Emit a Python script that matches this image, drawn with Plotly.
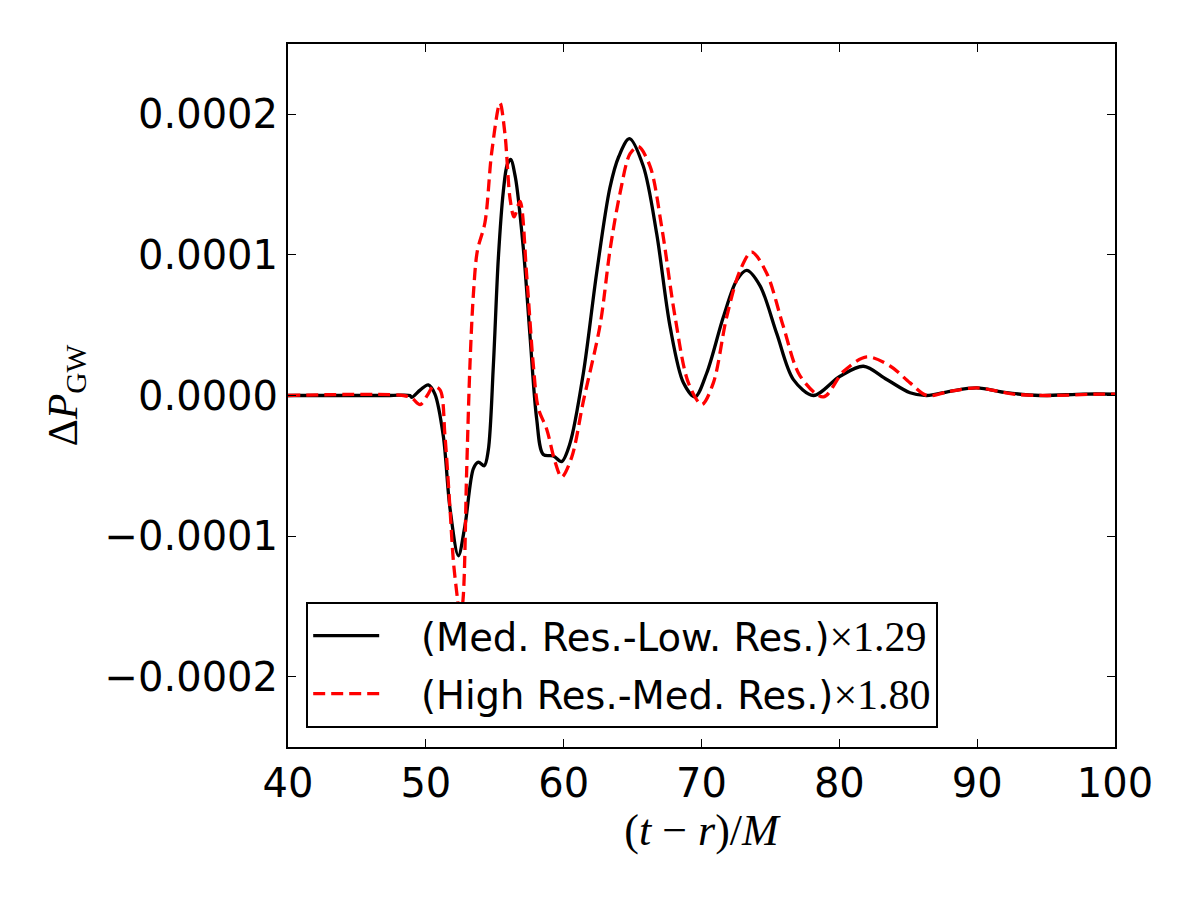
import plotly.graph_objects as go

# Time axis (t - r)/M and Delta P_GW values
med_low_t = [40, 47.4, 48.85, 48.97, 49.6, 50.18, 50.66, 51.27, 51.75, 52.36, 52.84,
             53.45, 53.81, 54.24, 54.53, 54.9, 55.26, 55.62, 55.9, 56.15, 56.5, 57.07,
             57.56, 58.04, 58.52, 59.25, 59.85, 60.46, 61.43, 62.39, 63.36, 64.0,
             64.77, 65.78, 66.75, 67.72, 68.69, 69.53, 70.38, 71.59, 72.56, 73.28,
             74.25, 75.46, 76.67, 78.12, 80.05, 81.75, 83.44, 85.13, 86.34, 88.03,
             89.97, 92.14, 94.56, 97.7, 100]
med_low_dp = [0.0, 0.0, 0.0, -0.0000013, 0.000004, 0.0000075, 0.000001, -0.000029,
              -0.00008, -0.000114, -0.0000925, -0.000052, -0.0000474, -0.00005,
              -0.000039, 0.0000215, 0.0000975, 0.000145, 0.000164, 0.000168, 0.000155,
              0.000105, 0.000042, -0.0000165, -0.000042, -0.000043, -0.000047,
              -0.000034, 0.000016, 0.000087, 0.000148, 0.00017, 0.0001827, 0.000163,
              0.000115, 0.000049, 0.000009, -0.000001, 0.000016, 0.000056, 0.000082,
              0.000089, 0.000078, 0.000044, 0.0000113, 0.0, 0.0000137, 0.0000208,
              0.0000114, 0.000002, 0.0, 0.000003, 0.0000054, 0.000002, 0.0, 0.000001,
              0.000001]

high_med_t = [40, 48.37, 49.0, 49.58, 50.1, 50.54, 51.03, 51.39, 51.75, 52.0, 52.3,
              52.48, 52.7, 52.96, 53.2, 53.45, 53.74, 54.29, 54.78, 55.38, 55.74,
              56.11, 56.4, 56.83, 57.32, 57.8, 58.16, 58.77, 59.37, 59.85, 60.58,
              61.43, 62.64, 63.37, 64.09, 64.82, 65.42, 66.27, 67.11, 68.08, 69.05,
              70.02, 70.86, 71.83, 72.8, 73.64, 74.73, 75.94, 77.15, 78.84, 80.29,
              81.99, 83.68, 85.13, 86.34, 88.03, 89.97, 92.63, 95.05, 98.9, 100]
high_med_dp = [0.0, 0.0, -0.000002, -0.0000065, 0.0, 0.0000063, 0.000004, -0.000029,
               -0.00008, -0.000118, -0.000145, -0.00016, -0.000145, -0.0000545,
               0.0000215, 0.000072, 0.000103, 0.000123, 0.000173, 0.000208, 0.000186,
               0.00014, 0.000127, 0.000138, 0.000085, 0.0000215, -0.000009, -0.000024,
               -0.000047, -0.000058, -0.000044, -0.000004, 0.00005, 0.000104, 0.000144,
               0.000172, 0.000177, 0.000163, 0.00012, 0.000056, 0.000009, -0.0000064,
               0.000009, 0.000056, 0.000089, 0.000102, 0.000087, 0.000049, 0.000014,
               -0.000001, 0.000017, 0.0000274, 0.000021, 0.000009, 0.0, 0.000003,
               0.0000054, 0.000001, 0.0, 0.000001, 0.000001]

x_ticks = [40, 50, 60, 70, 80, 90, 100]
y_ticks = [-0.0002, -0.0001, 0.0, 0.0001, 0.0002]

SERIF = "Liberation Serif"
SANS = "DejaVu Sans"
GAP = "\u00a0" * 3

fig = go.Figure()
fig.add_trace(go.Scatter(
    x=med_low_t, y=med_low_dp, mode="lines", legendgroup="a",
    line=dict(color="black", width=3.3, shape="spline", smoothing=0.9),
    name=GAP + "(Med. Res.-Low. Res.)<span style='font-family:Liberation Serif;font-size:42px'>×1.29</span>",
))
fig.add_trace(go.Scatter(
    x=high_med_t, y=high_med_dp, mode="lines", legendgroup="b",
    line=dict(color="red", width=3.3, dash="12px,6px", shape="spline", smoothing=0.9),
    name=GAP + "(High Res.-Med. Res.)<span style='font-family:Liberation Serif;font-size:42px'>×1.80</span>",
))

axis_common = dict(
    showline=True, linecolor="black", linewidth=2, mirror="ticks",
    ticks="inside", ticklen=8, tickwidth=1, tickcolor="black",
    showgrid=False, zeroline=False,
    tickfont=dict(family=SANS, size=40, color="black"),
)

fig.update_layout(
    width=1200, height=900,
    paper_bgcolor="white", plot_bgcolor="white",
    margin=dict(l=288, r=85, t=44, b=153),
    xaxis=dict(range=[40, 100], tickvals=x_ticks, ticktext=[str(v) for v in x_ticks],
               title=dict(text="(<i>t</i> − <i>r</i>)/<i>M</i>",
                          font=dict(family=SERIF, size=44, color="black"), standoff=8),
               **axis_common),
    yaxis=dict(range=[-0.00025, 0.00025], tickvals=y_ticks, tickformat=".4f",
               title=dict(text="Δ<i>P</i><sub>GW</sub>",
                          font=dict(family=SERIF, size=42, color="black"), standoff=14),
               **axis_common),
    legend=dict(x=0.022, y=0.027, xanchor="left", yanchor="bottom",
                bgcolor="white", bordercolor="black", borderwidth=2,
                font=dict(family=SANS, size=38.5, color="black"),
                tracegroupgap=5, itemwidth=66),
    showlegend=True,
)

fig.write_html("out.html")
